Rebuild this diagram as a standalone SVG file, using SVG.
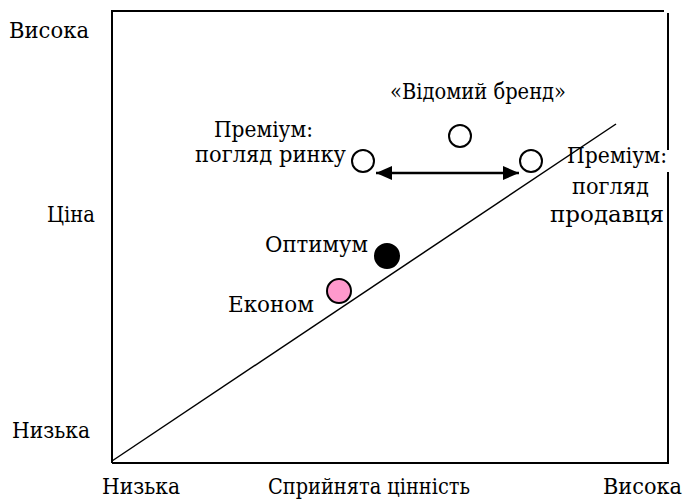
<svg xmlns="http://www.w3.org/2000/svg" width="688" height="501" viewBox="0 0 688 501">
<style>
text{fill:#000;font-family:"DejaVu Serif","Liberation Serif",serif;font-size:22px}
.frame{fill:none;stroke:#000;stroke-width:2}
.pt{stroke:#000;stroke-width:2}
.ln{stroke:#000;stroke-width:1.5;fill:none}
</style>
<defs>
<marker id="ah" markerUnits="userSpaceOnUse" markerWidth="18" markerHeight="16" refX="16" refY="8" orient="auto-start-reverse">
<path d="M0,1 L16,8 L0,15 Z" fill="#000"/>
</marker>
</defs>
<rect width="688" height="501" fill="#fff"/>
<g id="frame">
<path class="frame" d="M112,463 V11 H664"/>
<path class="frame" d="M668,13 V463 H112"/>
</g>
<g id="axis-labels">
<text x="9" y="38" textLength="80" lengthAdjust="spacingAndGlyphs">Висока</text>
<text x="47" y="222" textLength="48" lengthAdjust="spacingAndGlyphs">Ціна</text>
<text x="12" y="438" textLength="78" lengthAdjust="spacingAndGlyphs">Низька</text>
<text x="102" y="494" textLength="78" lengthAdjust="spacingAndGlyphs">Низька</text>
<text x="268" y="494" textLength="202" lengthAdjust="spacingAndGlyphs">Сприйнята цінність</text>
<text x="603" y="494" textLength="79" lengthAdjust="spacingAndGlyphs">Висока</text>
</g>
<rect x="663" y="150" width="10" height="22" fill="#fff"/>
<g id="premium-seller">
<circle class="pt" cx="531" cy="161" r="11" fill="#fff"/>
<text x="567" y="163" textLength="100" lengthAdjust="spacingAndGlyphs">Преміум:</text>
<text x="572" y="194" textLength="77" lengthAdjust="spacingAndGlyphs">погляд</text>
<text x="550" y="222" textLength="114" lengthAdjust="spacingAndGlyphs">продавця</text>
</g>
<g id="connectors">
<line class="ln" x1="112" y1="461" x2="616" y2="124"/>
<line x1="376" y1="173" x2="519" y2="173" stroke="#000" stroke-width="2.5" marker-start="url(#ah)" marker-end="url(#ah)"/>
</g>
<g id="known-brand">
<circle class="pt" cx="460" cy="136" r="11" fill="#fff"/>
<text x="390" y="99" textLength="176" lengthAdjust="spacingAndGlyphs">«Відомий бренд»</text>
</g>
<g id="premium-market">
<circle class="pt" cx="363" cy="161" r="11" fill="#fff"/>
<text x="214" y="137" textLength="99" lengthAdjust="spacingAndGlyphs">Преміум:</text>
<text x="195" y="162" textLength="151" lengthAdjust="spacingAndGlyphs">погляд ринку</text>
</g>
<g id="optimum">
<circle class="pt" cx="387" cy="256" r="12" fill="#000"/>
<text x="265" y="252" textLength="103" lengthAdjust="spacingAndGlyphs">Оптимум</text>
</g>
<g id="econom">
<circle class="pt" cx="339" cy="291" r="12" fill="#ff99cc"/>
<text x="228" y="312" textLength="86" lengthAdjust="spacingAndGlyphs">Економ</text>
</g>
</svg>
